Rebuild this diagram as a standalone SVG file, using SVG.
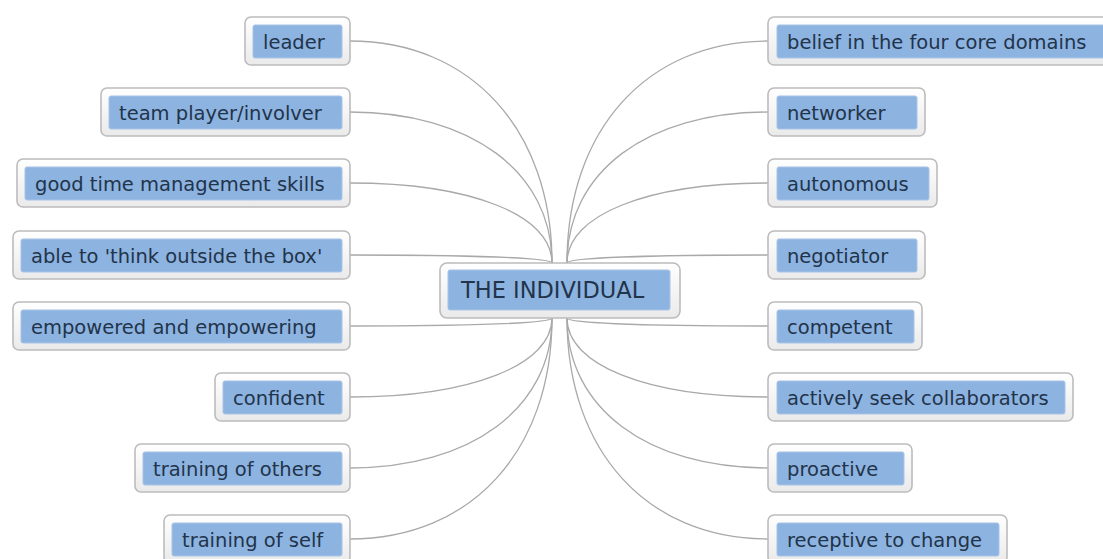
<svg xmlns="http://www.w3.org/2000/svg" width="1103" height="559" viewBox="0 0 1103 559">
<defs>
<linearGradient id="og" x1="0" y1="0" x2="0" y2="1">
<stop offset="0" stop-color="#ffffff"/>
<stop offset="1" stop-color="#eaeaea"/>
</linearGradient>
</defs>
<style>
.o{fill:url(#og);stroke:#bcbcbc;stroke-width:1.6}
.i{fill:#8db3e1;stroke:#a7c3e6;stroke-width:1}
.t{font-family:"DejaVu Sans",sans-serif;font-size:19.5px;fill:#22344a}
.c{font-size:22.5px}
.l{fill:none;stroke:#a9a9a9;stroke-width:1.3}
</style>
<rect width="1103" height="559" fill="#ffffff"/>
<g id="connectors">
<path class="l" d="M350,41 C471,41 552,130 552,263"/>
<path class="l" d="M350,112 C471,112 552,172 552,263"/>
<path class="l" d="M350,183 C471,183 552,215 552,263"/>
<path class="l" d="M350,255 C471,255 552,258 552,263"/>
<path class="l" d="M350,326 C471,326 552,323 552,318"/>
<path class="l" d="M350,397 C471,397 552,365 552,318"/>
<path class="l" d="M350,468 C471,468 552,408 552,318"/>
<path class="l" d="M350,539 C471,539 552,451 552,318"/>
<path class="l" d="M768,41 C647,41 567,130 567,263"/>
<path class="l" d="M768,112 C647,112 567,172 567,263"/>
<path class="l" d="M768,183 C647,183 567,215 567,263"/>
<path class="l" d="M768,255 C647,255 567,258 567,263"/>
<path class="l" d="M768,326 C647,326 567,323 567,318"/>
<path class="l" d="M768,397 C647,397 567,365 567,318"/>
<path class="l" d="M768,468 C647,468 567,408 567,318"/>
<path class="l" d="M768,539 C647,539 567,451 567,318"/>
</g>
<g id="center">
<rect class="o" x="440" y="263" width="240" height="55" rx="7"/>
<rect class="i" x="448" y="270" width="222" height="40" rx="2"/>
<text class="t c" x="461" y="298">THE INDIVIDUAL</text>
</g>
<g id="n-leader">
<rect class="o" x="245" y="17" width="105" height="48" rx="6"/>
<rect class="i" x="253" y="25" width="89" height="33" rx="2"/>
<text class="t" x="263" y="49">leader</text>
</g>
<g id="n-team">
<rect class="o" x="101" y="88" width="249" height="48" rx="6"/>
<rect class="i" x="109" y="96" width="233" height="33" rx="2"/>
<text class="t" x="119" y="120">team player/involver</text>
</g>
<g id="n-time">
<rect class="o" x="17" y="159" width="333" height="48" rx="6"/>
<rect class="i" x="25" y="167" width="317" height="33" rx="2"/>
<text class="t" x="35" y="191">good time management skills</text>
</g>
<g id="n-think">
<rect class="o" x="13" y="231" width="337" height="48" rx="6"/>
<rect class="i" x="21" y="239" width="321" height="33" rx="2"/>
<text class="t" x="31" y="263">able to 'think outside the box'</text>
</g>
<g id="n-empower">
<rect class="o" x="13" y="302" width="337" height="48" rx="6"/>
<rect class="i" x="21" y="310" width="321" height="33" rx="2"/>
<text class="t" x="31" y="334">empowered and empowering</text>
</g>
<g id="n-confident">
<rect class="o" x="215" y="373" width="135" height="48" rx="6"/>
<rect class="i" x="223" y="381" width="119" height="33" rx="2"/>
<text class="t" x="233" y="405">confident</text>
</g>
<g id="n-others">
<rect class="o" x="135" y="444" width="215" height="48" rx="6"/>
<rect class="i" x="143" y="452" width="199" height="33" rx="2"/>
<text class="t" x="153" y="476">training of others</text>
</g>
<g id="n-self">
<rect class="o" x="164" y="515" width="186" height="48" rx="6"/>
<rect class="i" x="172" y="523" width="170" height="33" rx="2"/>
<text class="t" x="182" y="547">training of self</text>
</g>
<g id="n-belief">
<rect class="o" x="768" y="17" width="345" height="48" rx="6"/>
<rect class="i" x="777" y="25" width="330" height="33" rx="2"/>
<text class="t" x="787" y="49">belief in the four core domains</text>
</g>
<g id="n-networker">
<rect class="o" x="768" y="88" width="157" height="48" rx="6"/>
<rect class="i" x="777" y="96" width="140" height="33" rx="2"/>
<text class="t" x="787" y="120">networker</text>
</g>
<g id="n-autonomous">
<rect class="o" x="768" y="159" width="169" height="48" rx="6"/>
<rect class="i" x="777" y="167" width="152" height="33" rx="2"/>
<text class="t" x="787" y="191">autonomous</text>
</g>
<g id="n-negotiator">
<rect class="o" x="768" y="231" width="157" height="48" rx="6"/>
<rect class="i" x="777" y="239" width="140" height="33" rx="2"/>
<text class="t" x="787" y="263">negotiator</text>
</g>
<g id="n-competent">
<rect class="o" x="768" y="302" width="154" height="48" rx="6"/>
<rect class="i" x="777" y="310" width="137" height="33" rx="2"/>
<text class="t" x="787" y="334">competent</text>
</g>
<g id="n-actively">
<rect class="o" x="768" y="373" width="305" height="48" rx="6"/>
<rect class="i" x="777" y="381" width="288" height="33" rx="2"/>
<text class="t" x="787" y="405">actively seek collaborators</text>
</g>
<g id="n-proactive">
<rect class="o" x="768" y="444" width="144" height="48" rx="6"/>
<rect class="i" x="777" y="452" width="127" height="33" rx="2"/>
<text class="t" x="787" y="476">proactive</text>
</g>
<g id="n-receptive">
<rect class="o" x="768" y="515" width="239" height="48" rx="6"/>
<rect class="i" x="777" y="523" width="222" height="33" rx="2"/>
<text class="t" x="787" y="547">receptive to change</text>
</g>
</svg>
